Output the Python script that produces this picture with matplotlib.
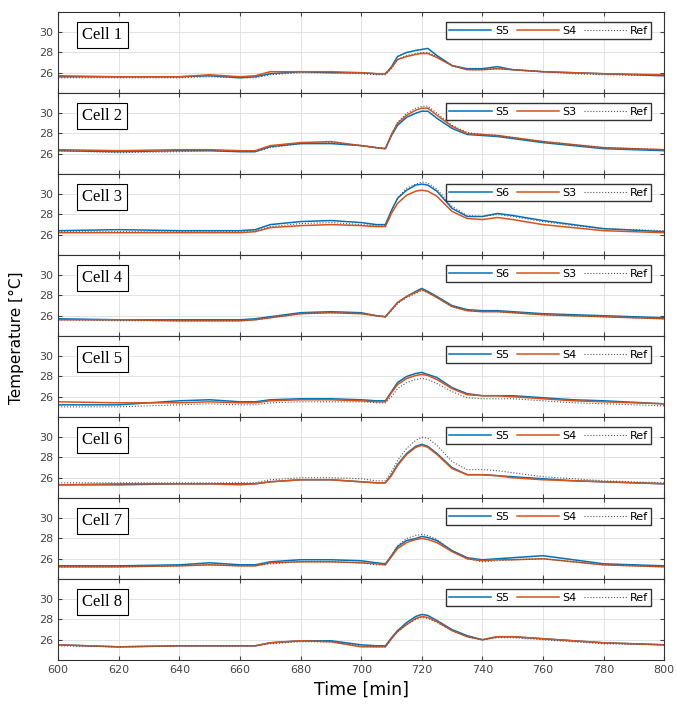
import matplotlib.pyplot as plt

# time grid [min]
t = [600, 620, 640, 650, 660, 665, 670, 680, 690, 700, 705, 708, 710, 712,
     715, 718, 720, 722, 725, 730, 735, 740, 745, 750, 760, 770, 780, 800]

names = [("S5", "S4"), ("S5", "S3"), ("S6", "S3"), ("S6", "S3"),
         ("S5", "S4"), ("S5", "S4"), ("S5", "S4"), ("S5", "S4")]

c1_a = [25.6,25.6,25.6,25.7,25.5,25.6,25.9,26.1,26.0,26.0,25.9,25.9,26.6,27.6,28.0,28.2,28.3,28.4,27.7,26.7,26.4,26.4,26.6,26.3,26.1,26.0,25.9,25.7]
c1_b = [25.7,25.6,25.6,25.8,25.6,25.7,26.1,26.1,26.1,26.0,25.9,25.9,26.5,27.3,27.6,27.8,27.9,27.9,27.5,26.7,26.3,26.3,26.4,26.3,26.1,26.0,25.9,25.8]
c1_r = [25.5,25.5,25.5,25.6,25.5,25.5,25.8,26.0,26.0,25.9,25.8,25.8,26.4,27.3,27.7,27.9,28.0,28.0,27.6,26.7,26.3,26.3,26.4,26.3,26.1,25.9,25.8,25.7]

c2_a = [26.3,26.2,26.3,26.3,26.2,26.2,26.7,27.0,27.0,26.8,26.6,26.5,27.8,28.8,29.6,30.0,30.2,30.2,29.5,28.5,27.9,27.8,27.7,27.5,27.1,26.8,26.5,26.3]
c2_b = [26.4,26.3,26.4,26.4,26.3,26.3,26.8,27.1,27.2,26.8,26.6,26.5,27.9,29.0,29.8,30.3,30.5,30.5,29.8,28.7,28.0,27.9,27.8,27.6,27.2,26.9,26.6,26.4]
c2_r = [26.3,26.1,26.2,26.3,26.2,26.2,26.6,27.0,27.1,26.8,26.6,26.5,27.9,29.1,30.0,30.5,30.7,30.7,30.0,28.8,28.1,27.9,27.8,27.6,27.2,26.9,26.6,26.4]

c3_a = [26.4,26.5,26.4,26.4,26.4,26.5,27.0,27.3,27.4,27.2,27.0,27.0,28.4,29.6,30.4,30.9,31.0,30.9,30.3,28.6,27.8,27.8,28.1,27.9,27.4,27.0,26.6,26.3]
c3_b = [26.2,26.2,26.2,26.2,26.2,26.3,26.7,26.9,27.0,26.9,26.8,26.8,28.1,29.1,29.9,30.3,30.4,30.3,29.8,28.3,27.6,27.5,27.7,27.5,27.0,26.7,26.4,26.2]
c3_r = [26.3,26.3,26.3,26.3,26.3,26.4,26.8,27.1,27.2,27.0,26.9,26.9,28.4,29.6,30.6,31.0,31.2,31.1,30.5,28.8,27.9,27.8,28.0,27.8,27.3,26.9,26.6,26.4]

c4_a = [25.7,25.6,25.6,25.6,25.6,25.7,25.9,26.3,26.4,26.3,26.0,25.9,26.6,27.3,27.9,28.4,28.7,28.4,27.9,27.0,26.6,26.5,26.5,26.4,26.2,26.1,26.0,25.8]
c4_b = [25.6,25.6,25.5,25.5,25.5,25.6,25.8,26.2,26.3,26.2,26.0,25.9,26.6,27.3,27.9,28.3,28.6,28.3,27.8,26.9,26.5,26.4,26.4,26.3,26.1,26.0,25.9,25.7]
c4_r = [25.6,25.5,25.5,25.5,25.5,25.6,25.8,26.2,26.3,26.2,26.0,25.9,26.5,27.2,27.8,28.2,28.5,28.3,27.8,26.9,26.5,26.4,26.4,26.3,26.1,26.0,25.9,25.7]

c5_a = [25.2,25.2,25.6,25.7,25.5,25.5,25.7,25.8,25.8,25.7,25.6,25.6,26.5,27.4,28.0,28.3,28.4,28.2,27.9,26.9,26.3,26.1,26.1,26.1,25.9,25.7,25.6,25.3]
c5_b = [25.5,25.4,25.4,25.5,25.4,25.4,25.6,25.7,25.7,25.6,25.5,25.5,26.4,27.2,27.8,28.1,28.2,28.1,27.7,26.8,26.2,26.1,26.1,26.0,25.8,25.6,25.5,25.3]
c5_r = [25.0,25.0,25.2,25.3,25.2,25.2,25.4,25.5,25.5,25.5,25.4,25.4,26.0,26.8,27.4,27.7,27.8,27.7,27.3,26.5,25.9,25.8,25.8,25.8,25.6,25.4,25.3,25.1]

c6_a = [25.3,25.3,25.4,25.4,25.4,25.4,25.6,25.8,25.8,25.6,25.5,25.5,26.3,27.3,28.4,29.1,29.3,29.1,28.4,27.0,26.3,26.3,26.2,26.1,25.9,25.7,25.6,25.4]
c6_b = [25.3,25.4,25.4,25.4,25.3,25.4,25.6,25.8,25.8,25.6,25.5,25.5,26.2,27.2,28.3,29.0,29.2,29.0,28.3,26.9,26.3,26.3,26.2,26.0,25.8,25.7,25.6,25.4]
c6_r = [25.5,25.5,25.5,25.5,25.5,25.5,25.8,26.0,26.0,25.9,25.7,25.7,26.6,27.7,28.9,29.7,30.0,29.9,29.2,27.6,26.8,26.8,26.7,26.5,26.1,25.9,25.7,25.5]

c7_a = [25.3,25.3,25.4,25.6,25.4,25.4,25.7,25.9,25.9,25.8,25.6,25.5,26.3,27.2,27.8,28.0,28.2,28.1,27.8,26.8,26.1,25.9,26.0,26.1,26.3,25.9,25.5,25.3]
c7_b = [25.2,25.2,25.3,25.4,25.3,25.3,25.6,25.7,25.7,25.6,25.5,25.4,26.2,27.0,27.6,27.9,28.0,27.9,27.6,26.7,26.0,25.8,25.9,25.9,26.0,25.7,25.4,25.2]
c7_r = [25.2,25.2,25.3,25.4,25.3,25.3,25.5,25.7,25.7,25.6,25.4,25.4,26.3,27.3,28.0,28.3,28.4,28.3,27.9,26.8,26.0,25.7,25.8,25.9,26.0,25.7,25.4,25.2]

c8_a = [25.5,25.3,25.4,25.4,25.4,25.4,25.7,25.9,25.9,25.5,25.4,25.4,26.2,26.9,27.7,28.3,28.5,28.4,27.9,27.0,26.4,26.0,26.3,26.3,26.1,25.9,25.7,25.5]
c8_b = [25.5,25.3,25.4,25.4,25.4,25.4,25.7,25.9,25.8,25.3,25.3,25.3,26.1,26.8,27.5,28.1,28.3,28.2,27.8,26.9,26.3,26.0,26.3,26.3,26.1,25.9,25.7,25.5]
c8_r = [25.4,25.3,25.4,25.4,25.4,25.4,25.6,25.8,25.8,25.4,25.3,25.3,26.1,26.8,27.5,28.0,28.2,28.1,27.7,26.9,26.3,26.0,26.2,26.2,26.0,25.8,25.6,25.5]

cells = [(c1_a, c1_b, c1_r), (c2_a, c2_b, c2_r), (c3_a, c3_b, c3_r),
         (c4_a, c4_b, c4_r), (c5_a, c5_b, c5_r), (c6_a, c6_b, c6_r),
         (c7_a, c7_b, c7_r), (c8_a, c8_b, c8_r)]

blue = "#0072BD"
orange = "#D95319"

fig, axes = plt.subplots(8, 1, figsize=(6.77, 7.04), dpi=100, sharex=True)
fig.subplots_adjust(left=0.086, right=0.981, top=0.983, bottom=0.0625, hspace=0)

for i, (ax, (a, b, r)) in enumerate(zip(axes, cells)):
    ax.plot(t, a, color=blue, lw=1.1, label=names[i][0])
    ax.plot(t, b, color=orange, lw=1.1, label=names[i][1])
    ax.plot(t, r, color="#555555", lw=0.8, ls=":", label="Ref")
    ax.set_xlim(600, 800)
    ax.set_ylim(24, 32)
    ax.set_yticks([26, 28, 30])
    ax.set_xticks(range(600, 801, 20))
    ax.grid(True, color="#dddddd", lw=0.6)
    ax.tick_params(labelsize=8, colors="#444444", direction="in", length=3,
                   top=True, right=True)
    for s in ax.spines.values():
        s.set_color("#333333")
    ax.text(0.04, 0.72, f"Cell {i + 1}", transform=ax.transAxes, fontsize=12,
            family="Liberation Serif", va="center",
            bbox=dict(boxstyle="square,pad=0.3", fc="white", ec="black", lw=0.8))
    leg = ax.legend(loc="upper right", bbox_to_anchor=(0.988, 0.94), ncol=3,
                    fontsize=8, handlelength=3.8, columnspacing=0.7,
                    handletextpad=0.3, borderpad=0.3, fancybox=False,
                    framealpha=1)
    leg.get_frame().set_edgecolor("#333333")

axes[-1].set_xlabel("Time [min]", fontsize=12.5)
fig.text(0.025, 0.52, "Temperature [°C]", rotation=90, ha="center", va="center",
         fontsize=11)

plt.savefig("out.png", dpi=100)
